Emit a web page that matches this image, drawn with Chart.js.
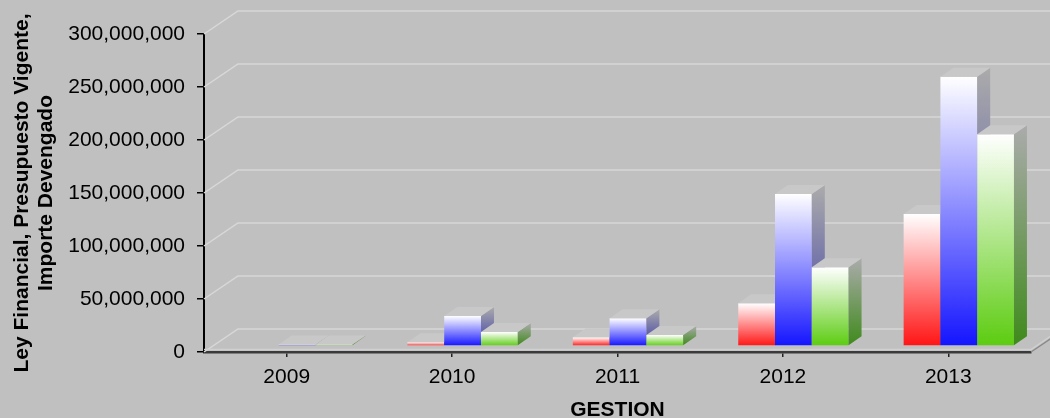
<!DOCTYPE html>
<html>
<head>
<meta charset="utf-8">
<script src="https://cdn.jsdelivr.net/npm/chart.js@4.4.1/dist/chart.umd.min.js"></script>
<style>
  html, body { margin: 0; padding: 0; background: #c0c0c0; }
  #gestionChart { display: block; background: #c0c0c0; }
</style>
</head>
<body>
<canvas id="gestionChart" width="1050" height="418"></canvas>
<script>
// datos por gestion
var years = ["2009", "2010", "2011", "2012", "2013"];
var leyFinancial = [0, 3500000, 8200000, 40300000, 124500000];
var presupuestoVigente = [1500000, 28300000, 26100000, 143400000, 254000000];
var importeDevengado = [1500000, 13200000, 10400000, 74200000, 199700000];

var yMax = 300000000;
var yStep = 50000000;

// colores
var baseColors = ["#ff1414", "#1414ff", "#5ccc10"];
var sideColors = ["#a01818", "#3c3ca8", "#3f8a1c"];

// 3d look
var DX = 34, DY = 23;        // walls depth
var BDX = 13, BDY = 9;       // bar depth
var SHIFT_X = 10.5, SHIFT_Y = -6;
var FONT = "'Liberation Sans', Arial, sans-serif";

function frontGradient(color) {
  return function (context) {
    var chart = context.chart;
    var y = chart.scales.y;
    if (!y || !chart.chartArea || context.raw === undefined) return color;
    var top = y.getPixelForValue(context.raw);
    var base = y.getPixelForValue(0);
    if (!isFinite(top) || !isFinite(base)) return color;
    if (base - top < 1) top = base - 1;
    var g = chart.ctx.createLinearGradient(0, top, 0, base);
    g.addColorStop(0, "#ffffff");
    g.addColorStop(1, color);
    return g;
  };
}

var walls3d = {
  id: "walls3d",
  beforeDatasetsDraw: function (chart) {
    var ctx = chart.ctx, a = chart.chartArea, ys = chart.scales.y;
    ctx.save();

    // side + back wall grid
    ctx.strokeStyle = "#d8d8d8";
    ctx.lineWidth = 1.5;
    ys.ticks.forEach(function (t) {
      var py = ys.getPixelForValue(t.value);
      ctx.beginPath();
      ctx.moveTo(a.left, py);
      ctx.lineTo(a.left + DX, py - DY);
      ctx.lineTo(a.right + DX, py - DY);
      ctx.stroke();
    });

    // floor edges
    ctx.strokeStyle = "#d0d0d0";
    ctx.beginPath();
    ctx.moveTo(a.left, a.bottom - 2.5);
    ctx.lineTo(a.right, a.bottom - 2.5);
    ctx.lineTo(a.right + DX, a.bottom - DY - 2.5);
    ctx.stroke();
    ctx.strokeStyle = "#8a8a8a";
    ctx.beginPath();
    ctx.moveTo(a.right, a.bottom);
    ctx.lineTo(a.right + DX, a.bottom - DY);
    ctx.stroke();

    // bars, category by category, left to right
    ctx.translate(SHIFT_X, SHIFT_Y);
    for (var i = 0; i < years.length; i++) {
      for (var d = 0; d < chart.data.datasets.length; d++) {
        var bar = chart.getDatasetMeta(d).data[i];
        var p = bar.getProps(["x", "y", "base", "width"]);
        var xl = p.x - p.width / 2, xr = p.x + p.width / 2;
        if (p.base - p.y < 0.1) continue;
        bar.draw(ctx);

        // side
        var sg = ctx.createLinearGradient(0, p.y - BDY, 0, p.base);
        sg.addColorStop(0, "#ababab");
        sg.addColorStop(1, sideColors[d]);
        ctx.fillStyle = sg;
        ctx.beginPath();
        ctx.moveTo(xr, p.y);
        ctx.lineTo(xr + BDX, p.y - BDY);
        ctx.lineTo(xr + BDX, p.base - BDY);
        ctx.lineTo(xr, p.base);
        ctx.closePath();
        ctx.fill();

        // top
        ctx.fillStyle = "#c8c8c8";
        ctx.beginPath();
        ctx.moveTo(xl, p.y);
        ctx.lineTo(xr, p.y);
        ctx.lineTo(xr + BDX, p.y - BDY);
        ctx.lineTo(xl + BDX, p.y - BDY);
        ctx.closePath();
        ctx.fill();
      }
    }
    ctx.restore();
    return false;
  }
};

new Chart("gestionChart", {
  type: "bar",
  data: {
    labels: years,
    datasets: [{
      label: "Ley Financial",
      data: leyFinancial,
      backgroundColor: frontGradient(baseColors[0])
    }, {
      label: "Presupuesto Vigente",
      data: presupuestoVigente,
      backgroundColor: frontGradient(baseColors[1])
    }, {
      label: "Importe Devengado",
      data: importeDevengado,
      backgroundColor: frontGradient(baseColors[2])
    }]
  },
  options: {
    responsive: false,
    animation: false,
    layout: { padding: { left: 0, top: 34, right: 19, bottom: 0 } },
    datasets: { bar: { categoryPercentage: 0.667, barPercentage: 1, borderWidth: 0 } },
    plugins: {
      legend: { display: false },
      tooltip: { enabled: false }
    },
    scales: {
      x: {
        afterFit: function (s) { s.height = 66; },
        grid: { offset: false, drawOnChartArea: false, drawTicks: true, tickLength: 5, color: "#222", lineWidth: 1.5 },
        border: { display: true, color: "#3a3a3a", width: 2.5 },
        ticks: { padding: 8, color: "#000", font: { family: FONT, size: 21, weight: "normal" } },
        title: {
          display: true,
          text: "GESTION",
          color: "#000",
          font: { family: FONT, size: 21, weight: "bold", lineHeight: 1.15 },
          padding: { top: 0, bottom: -4 }
        }
      },
      y: {
        min: 0,
        max: yMax,
        afterFit: function (s) { s.width = 204; },
        grid: { drawOnChartArea: false, drawTicks: true, tickLength: 7, color: "#000", lineWidth: 1.5 },
        border: { display: true, color: "#000", width: 2 },
        ticks: {
          stepSize: yStep,
          padding: 12,
          color: "#000",
          font: { family: FONT, size: 21, weight: "normal" },
          callback: function (v) { return Number(v).toLocaleString("en-US"); }
        },
        title: {
          display: true,
          text: ["Ley Financial, Presupuesto Vigente,", "Importe Devengado"],
          color: "#000",
          font: { family: FONT, size: 21, weight: "bold", lineHeight: 1.15 },
          padding: { top: 10, bottom: 0 }
        }
      }
    }
  },
  plugins: [walls3d]
});
</script>
</body>
</html>
